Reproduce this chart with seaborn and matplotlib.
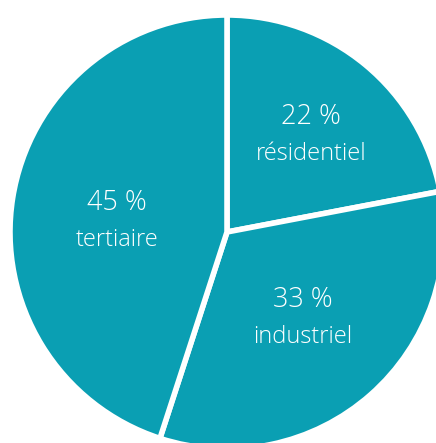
import numpy as np
import matplotlib
matplotlib.use('Agg')
import matplotlib.pyplot as plt
import seaborn as sns

# data
sectors = ['résidentiel', 'industriel', 'tertiaire']
shares = [22, 33, 45]

# label placement (fraction of radius, angle nudge in degrees)
label_dist = [0.59, 0.53, 0.51]
label_nudge = [-1.5, 0.0, 3.5]

sns.set_theme(style='white')
plt.rcParams['font.family'] = ['Open Sans', 'DejaVu Sans']

teal = '#0a9fb3'
fig = plt.figure(figsize=(4.36, 4.43), dpi=100)
ax = fig.add_axes([0, 0, 1, 1])

R = 217.0
cx, cy = 227.0, 232.0
wedges, _ = ax.pie(shares, startangle=90, counterclock=False,
                   colors=[teal] * 3, radius=1,
                   wedgeprops=dict(edgecolor='white', linewidth=4))

for w, s, name, d, a in zip(wedges, shares, sectors, label_dist, label_nudge):
    mid = np.deg2rad((w.theta1 + w.theta2) / 2 + a)
    x, y = d * np.cos(mid), d * np.sin(mid)
    ax.text(x, y + 0.085, f'{s} %', ha='center', va='center',
            color='white', fontsize=19.5, fontweight='light', zorder=5)
    ax.text(x, y - 0.085, name, ha='center', va='center',
            color='white', fontsize=17, fontweight='light', zorder=5)

ax.set_xlim(-cx / R, (436 - cx) / R)
ax.set_ylim(-(443 - cy) / R, cy / R)
ax.set_aspect('equal')
ax.axis('off')
fig.savefig('out.png', dpi=100)
